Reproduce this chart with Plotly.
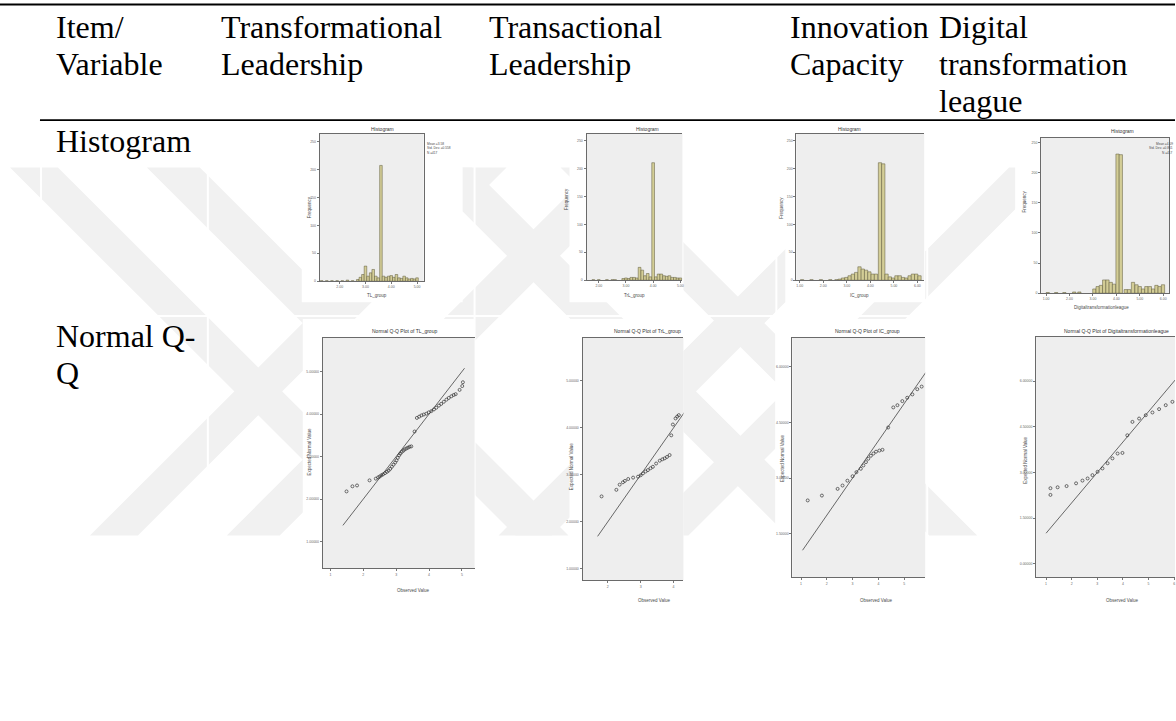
import plotly.graph_objects as go

W, H = 1176, 721

# ---------------- table text ----------------
column_headers = [
    ["Item/", "Variable"],
    ["Transformational", "Leadership"],
    ["Transactional", "Leadership"],
    ["Innovation", "Capacity"],
    ["Digital", "transformation", "league"],
]
row_labels = [["Histogram"], ["Normal Q-", "Q"]]
variable_names = ["TL_group", "TrL_group", "IC_group", "Digitaltransformationleague"]
qq_titles = [
    "Normal Q-Q Plot of TL_group",
    "Normal Q-Q Plot of TrL_group",
    "Normal Q-Q Plot of IC_group",
    "Normal Q-Q Plot of Digitaltransformationleague",
]
tl_legend = ["Mean =3.58", "Std. Dev. =0.558", "N =417"]
dt_legend = ["Mean =4.09", "Std. Dev. =0.861", "N =417"]

# ---------------- histogram data (bin centre, frequency) ----------------
tl_bins = [1.30, 1.50, 1.70, 1.90, 2.10, 2.30, 2.50, 2.70, 2.80, 2.90, 3.00, 3.10, 3.20, 3.30, 3.40, 3.50,
           3.60, 3.70, 3.80, 3.90, 4.00, 4.10, 4.20, 4.30, 4.40, 4.50, 4.60, 4.70, 4.80, 4.90, 5.00]
tl_freq = [1, 1, 1, 1, 1, 2, 1, 3, 7, 12, 27, 9, 15, 21, 9, 6,
           207, 9, 7, 9, 10, 7, 12, 6, 5, 9, 6, 4, 5, 4, 6]

trl_bins = [1.80, 2.00, 2.30, 2.50, 2.60, 2.90, 3.00, 3.10, 3.20, 3.30, 3.40, 3.50, 3.60, 3.70, 3.80, 3.90,
            4.00, 4.10, 4.20, 4.30, 4.40, 4.50, 4.60, 4.70, 4.80, 4.90, 5.00]
trl_freq = [1, 1, 1, 1, 1, 3, 4, 3, 5, 5, 4, 23, 18, 8, 12, 6,
            210, 6, 11, 11, 8, 7, 8, 5, 5, 4, 4]

ic_bins = [1.10, 1.50, 1.90, 2.30, 2.56, 2.70, 2.84, 2.98, 3.12, 3.26, 3.40, 3.54, 3.68, 3.82, 3.96, 4.10,
           4.24, 4.41, 4.55, 4.69, 4.83, 4.97, 5.11, 5.25, 5.39, 5.53, 5.67, 5.81, 5.95, 6.09]
ic_freq = [1, 1, 1, 1, 1, 2, 4, 5, 8, 11, 14, 24, 20, 18, 15, 11,
           11, 210, 208, 11, 6, 4, 8, 8, 5, 4, 8, 11, 11, 8]

dt_bins = [1.07, 1.43, 1.78, 2.20, 2.42, 3.06, 3.20, 3.34, 3.48, 3.62, 3.76, 3.90, 4.05, 4.19, 4.40, 4.54,
           4.71, 4.86, 5.00, 5.14, 5.28, 5.43, 5.57, 5.71, 5.85, 5.99]
dt_freq = [1, 1, 1, 2, 2, 7, 11, 13, 22, 22, 18, 15, 231, 230, 6, 6,
           18, 14, 11, 7, 11, 11, 7, 13, 11, 14]

# ---------------- normal Q-Q data (observed, expected normal) ----------------
tl_observed = [1.49, 1.67, 1.81, 2.19, 2.38, 2.45, 2.50, 2.55, 2.60, 2.66, 2.72, 2.77, 2.82, 2.87, 2.92, 2.97,
               3.01, 3.05, 3.09, 3.13, 3.17, 3.22, 3.26, 3.31, 3.36, 3.41, 3.46, 3.56, 3.63, 3.70, 3.77, 3.84,
               3.92, 3.99, 4.07, 4.15, 4.22, 4.30, 4.37, 4.45, 4.53, 4.60, 4.68, 4.75, 4.81, 4.93, 5.01, 5.03]
tl_expected = [2.18, 2.30, 2.32, 2.44, 2.48, 2.51, 2.53, 2.56, 2.58, 2.61, 2.64, 2.67, 2.71, 2.76, 2.81, 2.86,
               2.91, 2.97, 3.03, 3.07, 3.11, 3.14, 3.17, 3.19, 3.21, 3.23, 3.24, 3.59, 3.91, 3.94, 3.97, 3.99,
               4.01, 4.04, 4.07, 4.11, 4.15, 4.20, 4.24, 4.29, 4.34, 4.38, 4.42, 4.45, 4.47, 4.57, 4.66, 4.75]

trl_observed = [1.81, 2.26, 2.36, 2.46, 2.52, 2.62, 2.77, 2.92, 3.00, 3.07, 3.15, 3.22, 3.30, 3.37, 3.47, 3.58,
                3.66, 3.73, 3.80, 3.88, 3.93, 3.98, 4.06, 4.11, 4.16]
trl_expected = [2.54, 2.68, 2.79, 2.84, 2.87, 2.91, 2.94, 2.96, 2.99, 3.03, 3.07, 3.10, 3.14, 3.17, 3.24, 3.30,
                3.33, 3.35, 3.38, 3.42, 3.84, 4.07, 4.20, 4.24, 4.27]

ic_observed = [1.26, 1.81, 2.42, 2.61, 2.80, 3.00, 3.15, 3.32, 3.42, 3.52, 3.61, 3.71, 3.81, 3.91, 4.04, 4.16,
               4.38, 4.58, 4.74, 4.93, 5.12, 5.32, 5.51, 5.68]
ic_expected = [2.40, 2.53, 2.71, 2.80, 2.93, 3.05, 3.16, 3.25, 3.34, 3.43, 3.52, 3.60, 3.66, 3.71, 3.74, 3.76,
               4.36, 4.90, 4.96, 5.07, 5.16, 5.25, 5.39, 5.46]

dt_observed = [1.17, 1.17, 1.45, 1.80, 2.17, 2.42, 2.62, 2.81, 3.01, 3.20, 3.40, 3.59, 3.79, 3.98, 4.17, 4.37,
               4.63, 4.89, 5.15, 5.41, 5.67, 5.93]
dt_expected = [2.26, 2.48, 2.51, 2.55, 2.64, 2.73, 2.80, 2.91, 3.02, 3.13, 3.30, 3.46, 3.62, 3.64, 4.22, 4.66,
               4.77, 4.88, 4.97, 5.08, 5.21, 5.32]

# reference line end points (minimum / maximum observed value)
qq_line_ends = [(1.38, 5.08), (1.69, 5.00), (1.06, 5.84), (1.00, 6.05)]

# ---------------- page geometry (pixels) ----------------
def fx(px):
    return px / W


def fy(py):
    return 1 - py / H


SERIF = "Liberation Serif"
SANS = "Liberation Sans"
WM = "#f1f1f1"        # watermark grey
PLOT_BG = "#eeeeee"   # SPSS plot-area grey
FRAME = "#6a6a6a"
BAR_FILL = "#d3cd96"
BAR_LINE = "#5a5638"

header_x = [55, 220, 488, 790, 939]
header_base = [38, 75, 112]
row_label_lines = [[152], [348, 385]]

# histogram panels: (left, top, right, bottom), x range, y range, xticks, right frame
hist_panels = [
    dict(box=(320, 134, 424, 282), xr=(1.225, 5.256), yr=(0, 263.8), xt=[2, 3, 4, 5], dy=50, frame=True,
         bins=tl_bins, freq=tl_freq, width=0.10, img=(302, 123, 463, 303)),
    dict(box=(587, 134, 683, 281), xr=(1.548, 5.077), yr=(0, 262.0), xt=[2, 3, 4, 5], dy=50, frame=False,
         bins=trl_bins, freq=trl_freq, width=0.10, img=(570, 123, 684, 303)),
    dict(box=(797, 134, 925, 281), xr=(0.855, 6.29), yr=(0, 262.0), xt=[1, 2, 3, 4, 5, 6], dy=50, frame=False,
         bins=ic_bins, freq=ic_freq, width=0.14, img=(786, 123, 926, 303)),
    dict(box=(1042, 138, 1170, 294), xr=(0.787, 6.247), yr=(0, 258.3), xt=[1, 2, 3, 4, 5, 6], dy=50, frame=True,
         bins=dt_bins, freq=dt_freq, width=0.14, img=(1016, 123, 1176, 317)),
]
hist_text = [
    dict(title=(383, 129), ytitle=(310, 208), xtitle=(377, 296)),
    dict(title=(648, 129), ytitle=(567, 200), xtitle=(635, 296)),
    dict(title=(850, 129), ytitle=(782, 208), xtitle=(860, 296)),
    dict(title=(1123, 131), ytitle=(1025, 202), xtitle=(1102, 308)),
]

qq_panels = [
    dict(box=(323, 339, 475, 570), xr=(0.766, 5.386), yr=(0.367, 5.79), dy=1, frame=False,
         obs=tl_observed, exp=tl_expected, img=(303, 320, 475, 605)),
    dict(box=(583, 339, 684, 582), xr=(1.23, 4.30), yr=(0.752, 5.911), dy=1, frame=False,
         obs=trl_observed, exp=trl_expected, img=(570, 320, 684, 610)),
    dict(box=(793, 339, 926, 579), xr=(0.663, 5.818), yr=(0.33, 6.765), dy=1.5, frame=False,
         obs=ic_observed, exp=ic_expected, img=(776, 320, 926, 610)),
    dict(box=(1037, 338, 1176, 579), xr=(0.611, 6.031), yr=(-0.452, 7.449), dy=1.5, frame=False,
         obs=dt_observed, exp=dt_expected, img=(1016, 320, 1176, 610)),
]
qq_text = [
    dict(title=(405, 332, "center"), ytitle=(310, 453), xtitle=(413, 592)),
    dict(title=(683, 332, "right"), ytitle=(572, 468), xtitle=(655, 602)),
    dict(title=(868, 332, "center"), ytitle=(783, 460), xtitle=(877, 602)),
    dict(title=(1117, 332, "center"), ytitle=(1027, 462), xtitle=(1123, 602)),
]

fig = go.Figure()
layout = dict(
    width=W, height=H, margin=dict(l=0, r=0, t=0, b=0),
    paper_bgcolor="white", plot_bgcolor="rgba(0,0,0,0)",
    showlegend=False, shapes=[], annotations=[],
)
shapes = layout["shapes"]
annotations = layout["annotations"]


def rect(x0, y0, x1, y1, color):
    shapes.append(dict(type="rect", xref="paper", yref="paper", layer="below",
                       x0=fx(x0), x1=fx(x1), y0=fy(y1), y1=fy(y0),
                       fillcolor=color, line=dict(width=0)))


def poly(points, color):
    path = "M " + " L ".join(f"{fx(x):.5f},{fy(y):.5f}" for x, y in points) + " Z"
    shapes.append(dict(type="path", xref="paper", yref="paper", layer="below", path=path,
                       fillcolor=color, line=dict(width=0)))


def hline(x0, x1, y, width, color="black", layer="above"):
    shapes.append(dict(type="line", xref="paper", yref="paper", layer=layer,
                       x0=fx(x0), x1=fx(x1), y0=fy(y), y1=fy(y), line=dict(color=color, width=width)))


def vline(x, y0, y1, width, color):
    shapes.append(dict(type="line", xref="paper", yref="paper", layer="below",
                       x0=fx(x), x1=fx(x), y0=fy(y0), y1=fy(y1), line=dict(color=color, width=width)))


def text(x, y, s, size, family=SANS, color="#4a4a4a", xanchor="center", angle=0):
    annotations.append(dict(x=fx(x), y=fy(y), xref="paper", yref="paper", text=s, showarrow=False,
                            xanchor=xanchor, yanchor="middle", textangle=angle, borderpad=0,
                            font=dict(family=family, size=size, color=color)))


# ---- watermark: crossed diagonal bands ----
TOP, BOT = 168, 537
DROP = BOT - TOP
back_bands = [(10, 48), (147, 53), (561, 48), (419, 53)]     # "\" bands: x at top edge, width
fwd_bands = [(90, 48), (227, 53), (641, 48), (499, 53)]      # "/" bands: x at bottom edge, width
for a, w in back_bands:
    poly([(a, TOP), (a + w, TOP), (a + w + DROP, BOT), (a + DROP, BOT)], WM)
for b, w in fwd_bands:
    poly([(b, BOT), (b + w, BOT), (b + w + DROP, TOP), (b + DROP, TOP)], WM)

# white cell borders over the watermark
for cx in [41, 208, 475, 777, 928]:
    vline(cx, 122, 620, 2, "white")
hline(0, W, 317, 2, "white", layer="below")

# embedded chart pages and their grey plotting areas
for p in hist_panels + qq_panels:
    rect(*p["img"], "white")
for p in hist_panels + qq_panels:
    rect(*p["box"], PLOT_BG)

# ---- table rules ----
hline(0, W, 4.5, 2)
hline(40, W, 120.5, 1.6)

# ---- header and row labels ----
for col, lines in enumerate(column_headers):
    for k, s in enumerate(lines):
        text(header_x[col], header_base[k] - 11, s, 32, SERIF, "black", "left")
for r, lines in enumerate(row_labels):
    for k, s in enumerate(lines):
        text(55, row_label_lines[r][k] - 11, s, 32, SERIF, "black", "left")

small_tick = dict(size=3.5, color="#666", family=SANS)


def add_axes(i, p, xticks, yticks, xfmt, yfmt):
    left, top, right, bottom = p["box"]
    layout[f"xaxis{i}"] = dict(
        domain=[fx(left), fx(right)], range=list(p["xr"]), anchor=f"y{i}",
        showline=True, linecolor=FRAME, linewidth=1, mirror=True,
        ticks="outside", ticklen=2, tickwidth=0.6, tickcolor="#777",
        tickvals=xticks, tickformat=xfmt, tickfont=small_tick,
        showgrid=False, zeroline=False, fixedrange=True)
    layout[f"yaxis{i}"] = dict(
        domain=[fy(bottom), fy(top)], range=list(p["yr"]), anchor=f"x{i}",
        showline=True, linecolor=FRAME, linewidth=1, mirror=p["frame"],
        ticks="outside", ticklen=2, tickwidth=0.6, tickcolor="#777",
        tickvals=yticks, tickformat=yfmt, tickfont=small_tick,
        showgrid=False, zeroline=False, fixedrange=True)


# ---- histograms ----
for j, p in enumerate(hist_panels):
    i = j + 1
    yt = [v for v in range(0, 300, p["dy"]) if v <= p["yr"][1]]
    add_axes(i, p, p["xt"], yt, ".2f", "d")
    fig.add_trace(go.Bar(
        x=p["bins"], y=p["freq"], width=p["width"],
        marker=dict(color=BAR_FILL, line=dict(color=BAR_LINE, width=0.5)),
        xaxis=f"x{i}", yaxis=f"y{i}", hoverinfo="skip"))
    t = hist_text[j]
    text(*t["title"], "Histogram", 5, color="#333")
    text(*t["ytitle"], "Frequency", 4.5, angle=-90)
    text(*t["xtitle"], variable_names[j], 4.5)

for k, s in enumerate(tl_legend):
    text(426, 144 + k * 4.5, s, 3.2, xanchor="left")
for k, s in enumerate(dt_legend):
    text(1175, 144 + k * 4.5, s, 3.2, xanchor="right")

# ---- normal Q-Q plots ----
for j, p in enumerate(qq_panels):
    i = j + 5
    lo, hi = p["yr"]
    step = p["dy"]
    yt = []
    v = step * int(lo / step)
    while v <= hi:
        if v >= lo:
            yt.append(round(v, 2))
        v += step
    xt = [v for v in range(0, 8) if p["xr"][0] <= v <= p["xr"][1]]
    add_axes(i, p, xt, yt, "d", "g")
    x0, x1 = qq_line_ends[j]
    fig.add_trace(go.Scatter(
        x=[x0, x1], y=[x0, x1], mode="lines", line=dict(color="#444", width=0.8),
        xaxis=f"x{i}", yaxis=f"y{i}", hoverinfo="skip"))
    fig.add_trace(go.Scatter(
        x=p["obs"], y=p["exp"], mode="markers",
        marker=dict(symbol="circle-open", size=3, color="#333", line=dict(width=0.7)),
        xaxis=f"x{i}", yaxis=f"y{i}", hoverinfo="skip"))
    t = qq_text[j]
    tx, ty, anchor = t["title"]
    text(tx, ty, qq_titles[j], 5, color="#333", xanchor=anchor)
    text(*t["ytitle"], "Expected Normal Value", 4.5, angle=-90)
    text(*t["xtitle"], "Observed Value", 4.5)

fig.update_layout(**layout)
fig.write_html("out.html")
